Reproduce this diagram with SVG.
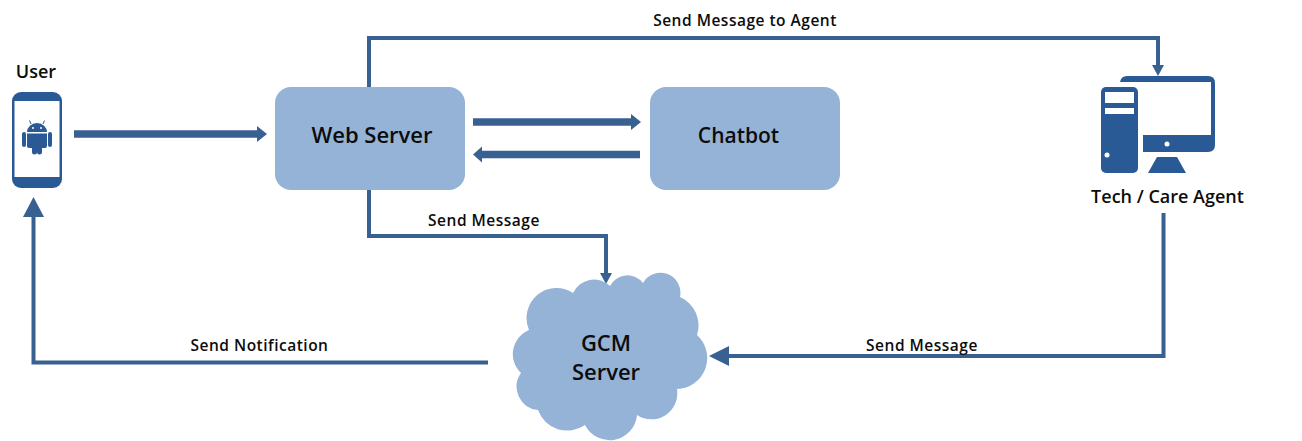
<svg xmlns="http://www.w3.org/2000/svg" width="1302" height="441" viewBox="0 0 1302 441">
<style>
text{font-family:"Open Sans","Liberation Sans",sans-serif;font-weight:600;fill:#0c0c0c;text-anchor:middle}
.n{font-size:22px}.l{font-size:15.500px;letter-spacing:.5px}.t{font-size:18px}
.box{fill:#95b3d7}.ic{fill:#2a5a96}.w{fill:#fff}
.c{fill:none;stroke:#386192;stroke-width:4}.th{stroke-width:7.500}.h{fill:#386192}
</style>
<rect width="1302" height="441" fill="#fff"/>
<g id="connectors">
<path class="c th" d="M74 134H258"/><path class="h" d="M257 126L267 134L257 142Z"/>
<path class="c th" d="M473 122H632"/><path class="h" d="M631 114L641 122L631 130Z"/>
<path class="c th" d="M640 154.500H482"/><path class="h" d="M482 146.500L473 154.500L482 162.500Z"/>
<path class="c" d="M369 87V38H1158V67"/><path class="h" d="M1152 65H1164L1158 76Z"/>
<path class="c" d="M369 188V236H606V275"/><path class="h" d="M600 273H612L606 284Z"/>
<path class="c" d="M1163.500 213V356H725"/><path class="h" d="M729 346V366L709 356Z"/>
<path class="c" d="M488 362.500H33.500V214"/><path class="h" d="M23 217H44L33.500 197Z"/>
<text class="l" x="745" y="26">Send Message to Agent</text>
<text class="l" x="484" y="226">Send Message</text>
<text class="l" x="259.500" y="351">Send Notification</text>
<text class="l" x="922" y="351">Send Message</text>
</g>
<g id="user">
<text class="t" x="36" y="78">User</text>
<rect class="ic" x="12" y="92" width="50" height="96" rx="9"/>
<rect class="w" x="14.500" y="101" width="45" height="76"/>
<path class="ic" d="M27 132a10 9 0 0 1 20 0Z"/>
<path class="ic" d="M27 133.500H47V146a2 2 0 0 1-2 2H42V152a2.500 2.500 0 0 1-5 0V148H37V152a2.500 2.500 0 0 1-5 0V148H29a2 2 0 0 1-2-2Z"/>
<rect class="ic" x="22" y="132" width="4" height="15" rx="2"/>
<rect class="ic" x="48" y="132" width="4" height="15" rx="2"/>
<path d="M31 124L29.500 120.500M43 124L44.500 120.500" stroke="#2a5a96" fill="none"/>
<circle class="w" cx="33" cy="128" r="1"/><circle class="w" cx="41" cy="128" r="1"/>
</g>
<g id="web-server">
<rect class="box" x="275" y="87" width="190" height="103" rx="16"/>
<text class="n" x="372" y="143">Web Server</text>
</g>
<g id="chatbot">
<rect class="box" x="650" y="87" width="190" height="103" rx="16"/>
<text class="n" x="738.500" y="143" style="font-size:21px">Chatbot</text>
</g>
<g id="gcm-server">
<path class="box" d="M610 286A19.600 19.600 0 0 1 643 283A20 20 0 0 1 680 297A31 31 0 0 1 697 335A31 31 0 0 1 677 389A26 26 0 0 1 637 415A27.500 27.500 0 0 1 585 425A31 31 0 0 1 538 410A23.500 23.500 0 0 1 521 373A26 26 0 0 1 529 330A30 30 0 0 1 573 293A23 23 0 0 1 610 286Z"/>
<text class="n" x="606" y="351">GCM</text>
<text class="n" x="606" y="380">Server</text>
</g>
<g id="agent">
<path class="ic" d="M1120 82Q1121 76 1127 76H1208Q1215 76 1215 83V145Q1215 152 1208 152H1143V135H1211V82Z"/>
<rect class="ic" x="1101" y="87" width="37" height="86" rx="5"/>
<rect class="w" x="1105" y="92" width="29" height="11"/>
<rect class="w" x="1105" y="108" width="29" height="6"/>
<circle class="w" cx="1107" cy="155" r="2.500"/>
<circle class="w" cx="1167" cy="144" r="2.500"/>
<path class="ic" d="M1157 157H1177L1186 173H1148Z"/>
<text class="t" x="1167.500" y="203">Tech / Care Agent</text>
</g>
</svg>
